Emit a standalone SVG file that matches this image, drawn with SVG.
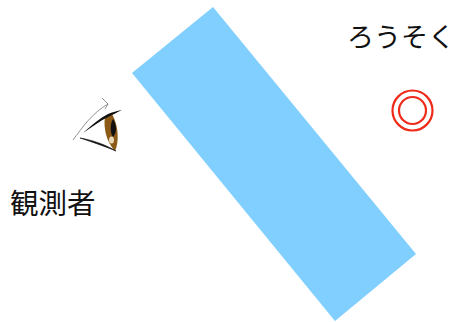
<svg xmlns="http://www.w3.org/2000/svg" width="456" height="322" viewBox="0 0 456 322">
<style>
.t{font-family:"Noto Sans CJK JP","Noto Sans",sans-serif;fill:#111}
.r{fill:none;stroke:#ee2a18;stroke-width:2.200}
</style>
<rect width="456" height="322" fill="#fff"/>
<polygon id="panel" points="213,7 416,254 335,321 132,73" fill="#80cfff"/>
<g id="eye">
<path d="M73,140 C82,128 92,113 108,104 M102,98 L108,104 L105,109" fill="none" stroke="#777" stroke-width="0.8"/>
<path d="M105,117 C103,128 107,143 115,151 C119,143 119,126 112,114 Z" fill="#8a5a16"/>
<path d="M113,119 C117,125 117,133 113,137 C110,133 110,124 113,119 Z" fill="#111"/>
<ellipse cx="111.500" cy="140" rx="2.500" ry="3.500" fill="#e8d8b8"/>
<path d="M83,133 C92,125 100,118 108,114 C112,112 117,111 122,110 C116,113 112,115 108,117 C100,121 92,127 83,133 Z" fill="#111"/>
<path d="M80,138 C92,140 104,144 116,151 C104,146 92,142 80,138 Z" fill="#111" stroke="#111" stroke-width="0.600"/>
</g>
<g id="candle">
<circle class="r" cx="412.500" cy="110.500" r="20"/>
<circle class="r" cx="412.500" cy="110.500" r="13.500"/>
</g>
<text id="candle-label" class="t" x="347" y="47" font-size="27" lang="ja">ろうそく</text>
<text id="observer-label" class="t" x="10" y="214" font-size="28.500" lang="ja">観測者</text>
</svg>
